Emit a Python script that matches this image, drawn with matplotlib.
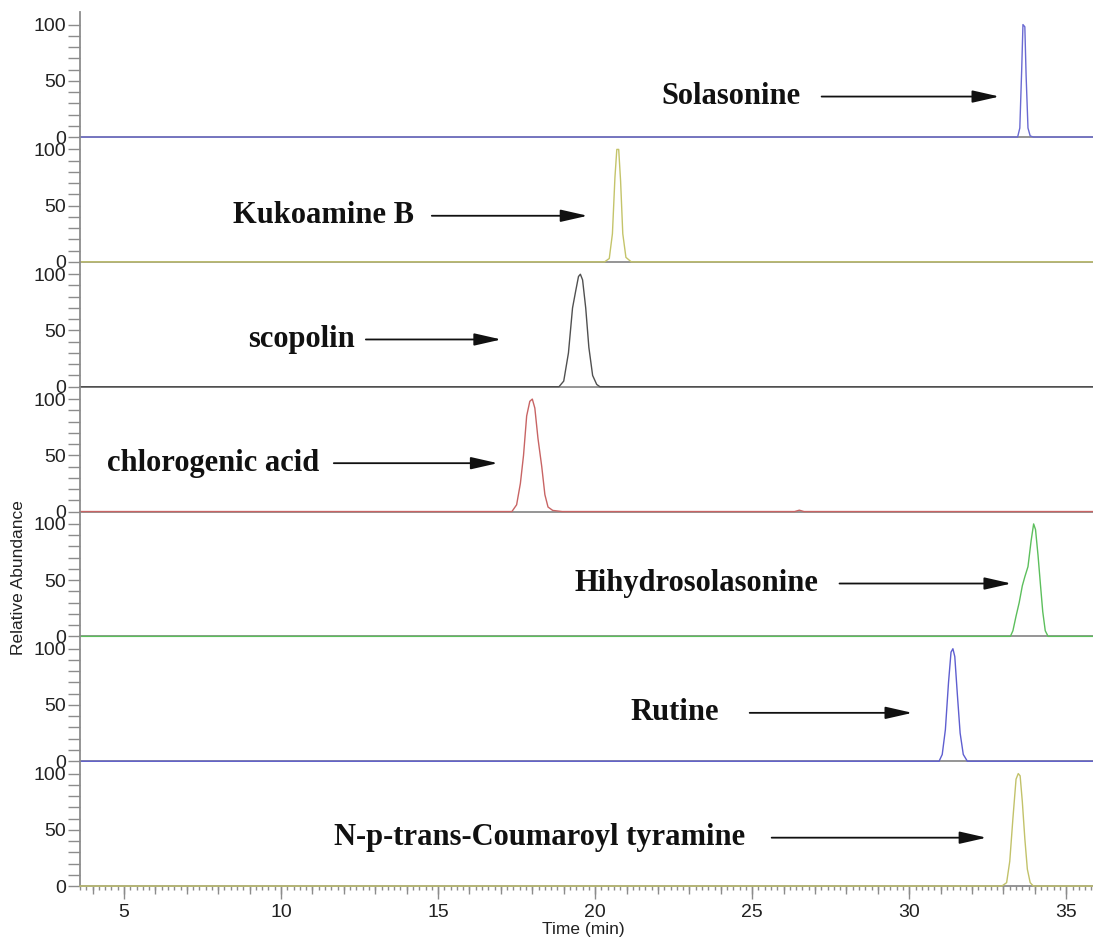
import matplotlib
matplotlib.use('Agg')
import matplotlib.pyplot as plt
from matplotlib.ticker import MultipleLocator, FixedLocator

plt.rcParams['font.family'] = ['Liberation Sans', 'DejaVu Sans']

# run window (min)
t_start = 3.6
t_end = 35.85

# compounds, top to bottom
names = ['Solasonine', 'Kukoamine B', 'scopolin', 'chlorogenic acid',
         'Hihydrosolasonine', 'Rutine', 'N-p-trans-Coumaroyl tyramine']

# peak profiles (time in min, relative abundance)
solasonine_t = [33.45, 33.52, 33.58, 33.62, 33.68, 33.72, 33.78, 33.85, 33.95]
solasonine_y = [0, 8, 60, 100, 98, 55, 8, 1, 0]

kukoamine_t = [20.30, 20.45, 20.55, 20.63, 20.69, 20.75, 20.81, 20.88, 20.98, 21.15]
kukoamine_y = [0, 3, 25, 75, 100, 100, 72, 25, 4, 0]

scopolin_t = [18.85, 19.00, 19.15, 19.28, 19.38, 19.47, 19.53, 19.60, 19.70, 19.80, 19.92, 20.05, 20.15]
scopolin_y = [0, 5, 30, 70, 85, 98, 100, 95, 70, 35, 10, 2, 0]

chlorogenic_t = [17.35, 17.50, 17.62, 17.72, 17.82, 17.92, 18.00, 18.08, 18.18, 18.30,
                 18.40, 18.50, 18.65, 18.95, 26.35, 26.50, 26.65]
chlorogenic_y = [0, 6, 25, 50, 85, 98, 100, 92, 65, 40, 15, 4, 1, 0, 0, 1.2, 0]

hihydro_t = [33.22, 33.30, 33.40, 33.50, 33.60, 33.68, 33.78, 33.88, 33.96, 34.02,
             34.10, 34.18, 34.25, 34.33, 34.42]
hihydro_y = [0, 5, 18, 30, 45, 53, 62, 85, 100, 95, 72, 45, 22, 5, 0]

rutine_t = [30.95, 31.05, 31.15, 31.25, 31.33, 31.39, 31.45, 31.53, 31.62, 31.72, 31.85]
rutine_y = [0, 6, 28, 70, 97, 100, 93, 60, 25, 6, 0]

coumaroyl_t = [32.95, 33.10, 33.20, 33.30, 33.40, 33.47, 33.53, 33.60, 33.68, 33.76, 33.85, 33.95]
coumaroyl_y = [0, 3, 22, 60, 95, 100, 98, 75, 42, 15, 3, 0]

peaks_t = [solasonine_t, kukoamine_t, scopolin_t, chlorogenic_t, hihydro_t, rutine_t, coumaroyl_t]
peaks_y = [solasonine_y, kukoamine_y, scopolin_y, chlorogenic_y, hihydro_y, rutine_y, coumaroyl_y]

# styling / label layout
colors = ['#6a6ad2', '#c4c46a', '#505050', '#c86464', '#5cbf5c', '#5e5ed0', '#c2c26a']
# (text x, arrow start, arrow end, y)
label_pos = [(22.12, 27.21, 32.87, 36),
             (8.47, 14.80, 19.76, 41),
             (8.95, 12.70, 17.01, 42),
             (4.46, 11.68, 16.90, 43),
             (19.35, 27.78, 33.25, 47),
             (21.13, 24.92, 30.10, 43),
             (11.68, 25.62, 32.46, 43)]

fig = plt.figure(figsize=(10.93, 9.39), dpi=100)

n = len(names)
left, right = 0.0732, 1.0
bottom, top = 0.0564, 0.987
h = (top - bottom) / n
spine_col = '#8c8c8c'

for i in range(n):
    ax = fig.add_axes([left, top - (i + 1) * h, right - left, h])
    t = [t_start] + peaks_t[i] + [t_end]
    y = [0] + peaks_y[i] + [0]
    ax.plot(t, y, color=colors[i], lw=1.0, zorder=3, clip_on=False)
    ax.set_xlim(t_start, t_end)
    ax.set_ylim(0, 111)

    for s in ['top', 'right']:
        ax.spines[s].set_visible(False)
    for s in ['left', 'bottom']:
        ax.spines[s].set_color(spine_col)
        ax.spines[s].set_linewidth(1.3)
    ax.patch.set_alpha(0)

    ax.yaxis.set_major_locator(FixedLocator([0, 50, 100]))
    ax.yaxis.set_minor_locator(FixedLocator(range(0, 101, 10)))
    ax.tick_params(axis='y', which='both', direction='out', length=9, width=1,
                   color=spine_col, labelsize=14, pad=1, labelcolor='#222222')

    tx, a0, a1, ly = label_pos[i]
    ax.text(tx, ly, names[i], family='Liberation Serif', weight='bold',
            fontsize=22, va='center', ha='left', color='#111111')
    ax.annotate('', xy=(a1, ly), xytext=(a0, ly),
                arrowprops=dict(arrowstyle='-|>,head_length=1.1,head_width=0.25',
                                mutation_scale=15, color='#111111', lw=1.3,
                                shrinkA=0, shrinkB=0))

    if i < n - 1:
        ax.tick_params(axis='x', which='both', length=0, labelbottom=False)
    else:
        ax.xaxis.set_major_locator(MultipleLocator(5))
        ax.xaxis.set_minor_locator(MultipleLocator(0.2))
        ax.tick_params(axis='x', which='major', direction='out', length=9, width=1,
                       color=spine_col, labelsize=14, pad=4, labelcolor='#222222')
        ax.tick_params(axis='x', which='minor', direction='out', length=3, width=1,
                       color=spine_col)
        sec = ax.secondary_xaxis('bottom')
        sec.xaxis.set_major_locator(MultipleLocator(1))
        sec.tick_params(axis='x', which='major', direction='out', length=6, width=1,
                        color=spine_col, labelbottom=False)
        sec.spines['bottom'].set_visible(False)

fig.text(0.0165, 0.3845, 'Relative Abundance', rotation=90, ha='center', va='center',
         fontsize=12.5, color='#222222')
fig.text(0.534, 0.0106, 'Time (min)', ha='center', va='center',
         fontsize=12.5, color='#222222')

fig.savefig('out.png', dpi=100)
